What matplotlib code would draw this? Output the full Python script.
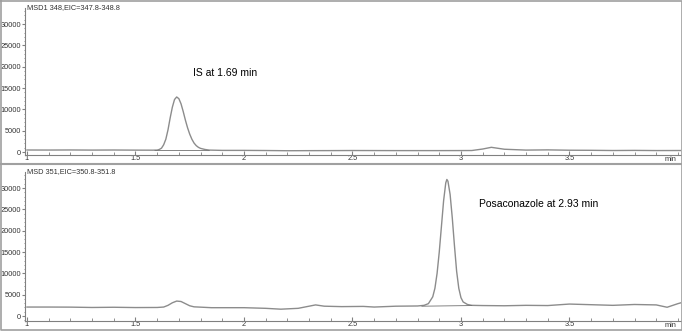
import numpy as np
import matplotlib
matplotlib.use("Agg")
import matplotlib.pyplot as plt
from matplotlib.lines import Line2D
from matplotlib.ticker import MultipleLocator

plt.rcParams['font.family'] = ['Liberation Sans', 'DejaVu Sans']

# top trace: MSD1 348, EIC=347.8-348.8 (IS)
t_is = [1.00, 1.10, 1.20, 1.30, 1.40, 1.50, 1.58, 1.60, 1.61, 1.62, 1.63, 1.64,
        1.65, 1.66, 1.67, 1.68, 1.69, 1.70, 1.71, 1.72, 1.73, 1.74, 1.75, 1.76,
        1.77, 1.78, 1.79, 1.80, 1.82, 1.84, 1.90, 2.00, 2.10, 2.20, 2.30, 2.40,
        2.50, 2.60, 2.70, 2.80, 2.90, 3.00, 3.05, 3.10, 3.14, 3.20, 3.30, 3.40,
        3.50, 3.60, 3.70, 3.80, 3.90, 4.00, 4.014]
y_is = [470, 460, 480, 450, 470, 440, 430, 450, 600, 900, 1700, 3000,
        5200, 8000, 10500, 12300, 12900, 12500, 11300, 9500, 7500, 5700, 4200, 3000,
        2100, 1500, 1100, 850, 600, 450, 380, 380, 350, 300, 320, 330,
        350, 340, 330, 330, 330, 340, 350, 700, 1100, 650, 450, 500,
        420, 400, 350, 380, 340, 350, 350]
base_is_t = [1.59, 1.84]
base_is_y = [380, 330]

# bottom trace: MSD 351, EIC=350.8-351.8 (posaconazole)
t_pos = [1.00, 1.10, 1.20, 1.30, 1.40, 1.50, 1.60, 1.63, 1.65, 1.67, 1.69, 1.71,
         1.73, 1.75, 1.77, 1.85, 1.90, 2.00, 2.10, 2.17, 2.25, 2.30, 2.33, 2.37,
         2.45, 2.55, 2.60, 2.70, 2.80, 2.83, 2.85, 2.87, 2.88, 2.89, 2.90, 2.91,
         2.92, 2.93, 2.935, 2.94, 2.95, 2.96, 2.97, 2.98, 2.99, 3.00, 3.01, 3.03,
         3.05, 3.10, 3.20, 3.30, 3.40, 3.50, 3.60, 3.70, 3.80, 3.90, 3.95, 4.00,
         4.014]
y_pos = [2100, 2100, 2080, 2000, 2050, 1980, 2000, 2100, 2500, 3100, 3500, 3400,
         2900, 2400, 2150, 1950, 1950, 1950, 1800, 1600, 1800, 2300, 2600, 2300,
         2200, 2250, 2100, 2300, 2350, 2500, 2900, 4500, 6500, 10000, 15000, 21000,
         27000, 31200, 32000, 31600, 28500, 23000, 16500, 10500, 6500, 4300, 3300, 2700,
         2500, 2450, 2400, 2500, 2450, 2800, 2650, 2500, 2700, 2600, 2050, 2900,
         3100]
base_pos_t = [2.82, 3.05]
base_pos_y = [2300, 2450]

xticks = [1, 1.5, 2, 2.5, 3, 3.5]
xticklabels = ['1', '1.5', '2', '2.5', '3', '3.5']
yticks = [0, 5000, 10000, 15000, 20000, 25000, 30000]

trace_col = '#8c8c8c'
axis_col = '#808080'
text_col = '#333333'

fig = plt.figure(figsize=(6.82, 3.31), dpi=100)
ax1 = fig.add_axes([25/682, 176/331, 656/682, 147/331])
ax2 = fig.add_axes([25/682, 10/331, 656/682, 149/331])

def style(ax, ymin, label):
    ax.set_xlim(0.991, 4.014)
    ax.set_ylim(ymin, 33750)
    for s in ['top', 'right']:
        ax.spines[s].set_visible(False)
    for s in ['left', 'bottom']:
        ax.spines[s].set_color(axis_col)
        ax.spines[s].set_linewidth(0.8)
    ax.set_xticks(xticks)
    ax.set_xticklabels(xticklabels)
    ax.xaxis.set_minor_locator(MultipleLocator(0.1))
    ax.set_yticks(yticks)
    ax.yaxis.set_minor_locator(MultipleLocator(1000))
    ax.tick_params(axis='x', which='major', direction='in', length=3, pad=0,
                   labelsize=5.3, colors=axis_col, labelcolor=text_col)
    ax.tick_params(axis='x', which='minor', direction='in', length=2, colors=axis_col)
    ax.tick_params(axis='y', which='major', direction='out', length=2, pad=1,
                   labelsize=5.3, colors=axis_col, labelcolor=text_col)
    ax.tick_params(axis='y', which='minor', direction='out', length=1, colors=axis_col)
    ax.text(3.965, -0.005, 'min', transform=ax.get_xaxis_transform(),
            ha='center', va='top', fontsize=5.3, color=text_col)
    ax.text(0.003, 1.0, label, transform=ax.transAxes, ha='left', va='center',
            fontsize=5.3, color=text_col)
    ax.patch.set_visible(False)

style(ax1, -700, 'MSD1 348,EIC=347.8-348.8')
ax1.plot(t_is, y_is, color=trace_col, lw=1)
ax1.plot(base_is_t, base_is_y, color='#707070', lw=0.6)
ax1.text(1.765, 18500, 'IS at 1.69 min', fontsize=7.5, va='center', ha='left')

style(ax2, -1170, 'MSD 351,EIC=350.8-351.8')
ax2.plot(t_pos, y_pos, color=trace_col, lw=1)
ax2.plot(base_pos_t, base_pos_y, color='#707070', lw=0.6)
ax2.text(3.083, 26200, 'Posaconazole at 2.93 min', fontsize=7.5, va='center', ha='left')

# outer frame and panel separator
frame_col = '#a0a0a0'
fig.add_artist(Line2D([0.5/682, 681.5/682, 681.5/682, 0.5/682, 0.5/682],
                      [330.5/331, 330.5/331, 1.5/331, 1.5/331, 330.5/331],
                      transform=fig.transFigure, color=frame_col, lw=1.2))
fig.add_artist(Line2D([0, 1], [167/331, 167/331], transform=fig.transFigure,
                      color=frame_col, lw=1.5))

fig.savefig('out.png', dpi=100)
